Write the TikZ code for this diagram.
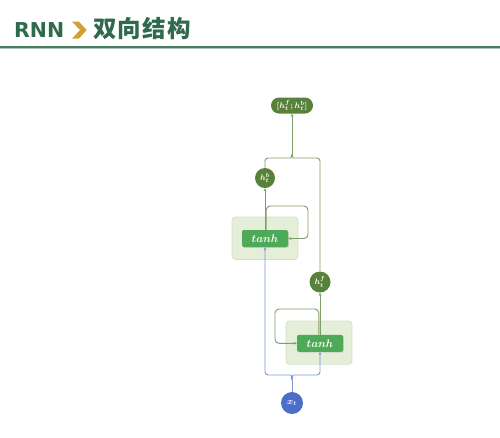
\documentclass[tikz,border=0pt]{standalone}
\usepackage{fontspec}
\usepackage{amsmath}
\newfontfamily\titlefont{DejaVu Sans}
\newfontfamily\cjk{Noto Sans CJK SC}
\usetikzlibrary{arrows.meta,shadows}
\definecolor{titlegreen}{HTML}{2F6A4E}
\definecolor{chev}{HTML}{D3A033}
\definecolor{rule1}{HTML}{4A7D60}
\definecolor{rule2}{HTML}{A9C6B6}
\definecolor{nodegreen}{HTML}{58813A}
\definecolor{tanhgreen}{HTML}{4EAA58}
\definecolor{bgfill}{HTML}{E4EED9}
\definecolor{bgdraw}{HTML}{D3E2C5}
\definecolor{linegreen}{HTML}{7F9E67}
\definecolor{lineblue}{HTML}{7A95DA}
\definecolor{nodeblue}{HTML}{4C6EC8}
\tikzset{
  hnode/.style={circle,fill=nodegreen,text=white,inner sep=0pt,minimum size=20pt,font=\fontsize{8}{9}\selectfont},
  xnode/.style={circle,fill=nodeblue,text=white,inner sep=0pt,minimum size=22pt,font=\fontsize{9}{10}\selectfont},
  outnode/.style={rounded corners=8pt,fill=nodegreen,text=white,inner sep=0pt,minimum width=42pt,minimum height=16pt,font=\fontsize{8}{9}\selectfont},
  tanhbox/.style={rounded corners=2pt,fill=tanhgreen,text=white,inner sep=0pt,minimum width=46pt,minimum height=17pt,font=\fontsize{11}{12}\selectfont,drop shadow={shadow xshift=0.8pt,shadow yshift=-0.8pt,opacity=0.25}},
  bgbox/.style={rounded corners=3pt,fill=bgfill,draw=bgdraw,line width=0.6pt},
  gline/.style={draw=linegreen,line width=0.9pt},
  bline/.style={draw=lineblue,line width=0.9pt},
  tip/.style={-{Stealth[length=3.2pt,width=2.8pt]}},
}
\begin{document}
\begin{tikzpicture}[x=1pt,y=-1pt]
\useasboundingbox (0,0) rectangle (500,437);
% title
\node[anchor=base west,inner sep=0pt,text=titlegreen,font=\titlefont\bfseries\fontsize{20.5}{24}\selectfont] (t1) at (14,37) {RNN};
\fill[chev] (72,21.5) -- (78.8,21.5) -- (86.7,30) -- (78.8,38.7) -- (72,38.7) -- (80,30) -- cycle;
\node[anchor=base west,inner sep=0pt,text=titlegreen,font=\cjk\bfseries\fontsize{23.5}{26}\selectfont] (t2) at (93,37.5) {双\kern1.2pt 向\kern1.2pt 结\kern1.2pt 构};
\draw[rule1,line width=1.3pt] (0,47) -- (500,47);
\draw[rule2,line width=1pt] (0,48.6) -- (500,48.6);
% backgrounds
\path[bgbox] (232,217) rectangle (298,259.5);
\path[bgbox] (286,321) rectangle (352,364.3);
% nodes
\node[outnode] (out) at (292,105.5) {$\boldsymbol{[h_t^f;h_t^b]}$};
\node[hnode] (hb) at (265,178) {$\boldsymbol{h_t^b}$};
\node[tanhbox] (tb) at (265,238.5) {$\boldsymbol{tanh}$};
\node[hnode,minimum size=21pt] (hf) at (320,282) {$\boldsymbol{h_t^f}$};
\node[tanhbox] (tf) at (320,343.3) {$\boldsymbol{tanh}$};
\node[xnode] (xt) at (292,403) {$\boldsymbol{x_t}$};
% junction coordinates
\coordinate (jt) at (292,154);
\coordinate (jb) at (292,380);
% blue inputs
\draw[bline] (xt.north) -- (jb);
\draw[bline,tip,rounded corners=3pt] (jb) to[out=90,in=0] (288,375) -| (tb.south);
\draw[bline,tip,rounded corners=3pt] (jb) to[out=90,in=180] (296,375) -| (tf.south);
% recurrent loops
\draw[gline,tip,rounded corners=4pt] ([xshift=1.2pt]tb.north) |- (308,206) |- (tb.east);
\draw[gline,tip,rounded corners=4pt] ([xshift=-1.2pt]tf.north) |- (275,309) |- (tf.west);
% hidden outputs
\draw[gline,tip] (tb.north) -- (hb.south);
\draw[gline,tip] (tf.north) -- (hf.south);
% to output
\draw[gline,rounded corners=3pt] (hb.north) |- (288,158) to[out=0,in=-90] (jt);
\draw[gline,rounded corners=3pt] (hf.north) |- (296,158) to[out=180,in=-90] (jt);
\draw[gline,tip] (jt) -- (out.south);
\end{tikzpicture}
\end{document}
